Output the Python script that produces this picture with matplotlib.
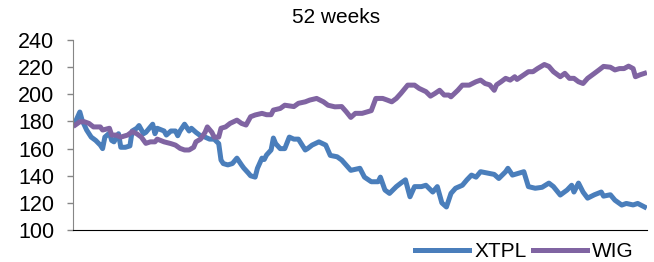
import matplotlib
matplotlib.use("Agg")
import matplotlib.pyplot as plt

plt.rcParams['font.family'] = ['Liberation Sans', 'DejaVu Sans']

# XTPL: trading day index and value
xtpl_day = [0, 2, 3, 5, 7, 9, 11, 12, 13, 15, 16, 17, 19, 20, 22, 24, 25, 27, 28, 30,
            31, 34, 35, 36, 39, 40, 42, 44, 45, 46, 48, 50, 51, 53, 55, 57, 59, 61, 63, 64,
            65, 67, 69, 71, 73, 74, 76, 77, 79, 80, 82, 83, 84, 86, 87, 88, 90, 92, 94, 96,
            98, 101, 102, 104, 107, 110, 112, 115, 117, 121, 125, 127, 130, 133, 134, 136, 138, 141, 143, 145,
            147, 149, 152, 154, 157, 159, 161, 163, 165, 167, 170, 172, 174, 176, 178, 181, 184, 186, 189, 190,
            192, 194, 197, 199, 202, 205, 208, 210, 213, 216, 218, 219, 221, 223, 225, 228, 231, 232, 235, 237,
            240, 242, 245, 247, 250]
xtpl_val = [179.5, 187, 181, 173.7, 168.5, 166, 162.6, 160, 168.5, 171.5, 166, 165, 171, 161, 161, 162, 173, 175, 177, 171,
            172, 178, 171, 175, 173, 170, 173, 173, 169.5, 173, 178, 173, 175, 172, 169.5, 168.5, 167, 167, 163.7, 151.6,
            149, 148, 149, 153, 148, 145.7, 142, 140, 139, 145.5, 153, 152, 155.3, 159, 167.8, 163.7, 160, 160, 168.5, 167,
            167, 159, 160, 162.6, 165, 162.6, 155, 154, 151.6, 144, 145.5, 139, 135.6, 135.6, 139, 129.5, 127, 132, 134.6, 137,
            124.5, 132, 132, 133, 128, 132, 120, 117, 127, 130.8, 133, 137, 140.5, 139, 143, 142, 141, 138, 143, 145.5,
            140.5, 141.5, 143, 132, 130.8, 131.5, 134.6, 132, 125.8, 129.5, 133, 128, 134.6, 128, 123.5, 126, 128, 125, 126, 122,
            118.4, 119.6, 118.5, 119.6, 117]

# WIG: trading day index and value
wig_day = [0, 2, 4, 6, 8, 11, 12, 15, 16, 18, 20, 23, 25, 27, 29, 31, 33, 35, 36, 39,
           42, 44, 46, 48, 50, 52, 53, 55, 57, 58, 60, 61, 63, 64, 66, 68, 71, 73, 75, 77,
           79, 82, 84, 86, 87, 90, 92, 94, 96, 98, 101, 103, 106, 109, 111, 114, 117, 119, 121, 123,
           126, 128, 130, 132, 135, 137, 139, 141, 143, 146, 149, 151, 154, 156, 158, 160, 162, 164, 165, 168,
           170, 173, 176, 178, 180, 182, 184, 185, 187, 189, 191, 193, 194, 197, 199, 201, 203, 206, 208, 210,
           213, 215, 217, 219, 221, 223, 225, 228, 230, 232, 235, 237, 239, 241, 243, 245, 246, 248, 250]
wig_val = [177.4, 179.8, 179.8, 178.6, 176, 176, 173.7, 175, 170, 170, 168.5, 170, 172.5, 171, 168.5, 163.9, 165, 165, 167, 165,
           163.7, 162.6, 160.2, 159, 159, 161, 165, 167, 172, 176, 172, 168.5, 168.5, 175, 176, 178.6, 181, 178.6, 177.4, 183.5,
           184.8, 186, 185, 185, 188.4, 189.6, 192, 191.5, 191, 193.4, 194.5, 195.8, 197, 194.5, 192, 190.8, 191, 187.2, 183, 186,
           186, 187, 188, 197, 197, 195.8, 194.5, 197, 200.7, 206.8, 206.8, 204.4, 202, 198.7, 200.7, 203, 199.5, 199.5, 198.2, 203,
           206.8, 206.8, 209.3, 210.5, 208, 207, 203, 207, 209.3, 211.8, 210.5, 213, 211, 214.4, 216.7, 216.7, 219, 222, 220.6, 216.7,
           213, 215.5, 211.8, 211.8, 209.3, 208, 211.8, 215.5, 218, 220.6, 220, 218, 219, 219, 220.8, 219, 213, 214.4, 215.5]

y_ticks = [100, 120, 140, 160, 180, 200, 220, 240]

fig = plt.figure(figsize=(6.54, 2.62), dpi=100)
ax = fig.add_axes([0.1116, 0.122, 0.8774, 0.725])

ax.plot(xtpl_day, xtpl_val, color='#4a7ebb', lw=3.6, label='XTPL', solid_joinstyle='round')
ax.plot(wig_day, wig_val, color='#8064a2', lw=3.6, label='WIG', solid_joinstyle='round')

ax.set_ylim(100, 240)
ax.set_xlim(-1, 251)
ax.set_yticks(y_ticks)
ax.set_xticks([])
ax.tick_params(axis='y', labelsize=15.5, length=4.5, width=1, color='#868686', pad=9)
for s in ['top', 'right']:
    ax.spines[s].set_visible(False)
ax.spines['left'].set_color('#868686')
ax.spines['bottom'].set_color('black')

fig.text(0.514, 0.935, '52 weeks', fontsize=15, ha='center', va='center')

fig.legend(loc='center right', bbox_to_anchor=(0.982, 0.04), ncol=2, frameon=False,
           fontsize=15, handlelength=2.6, handletextpad=0.25, columnspacing=0.3,
           borderaxespad=0)

fig.savefig('out.png', dpi=100)
